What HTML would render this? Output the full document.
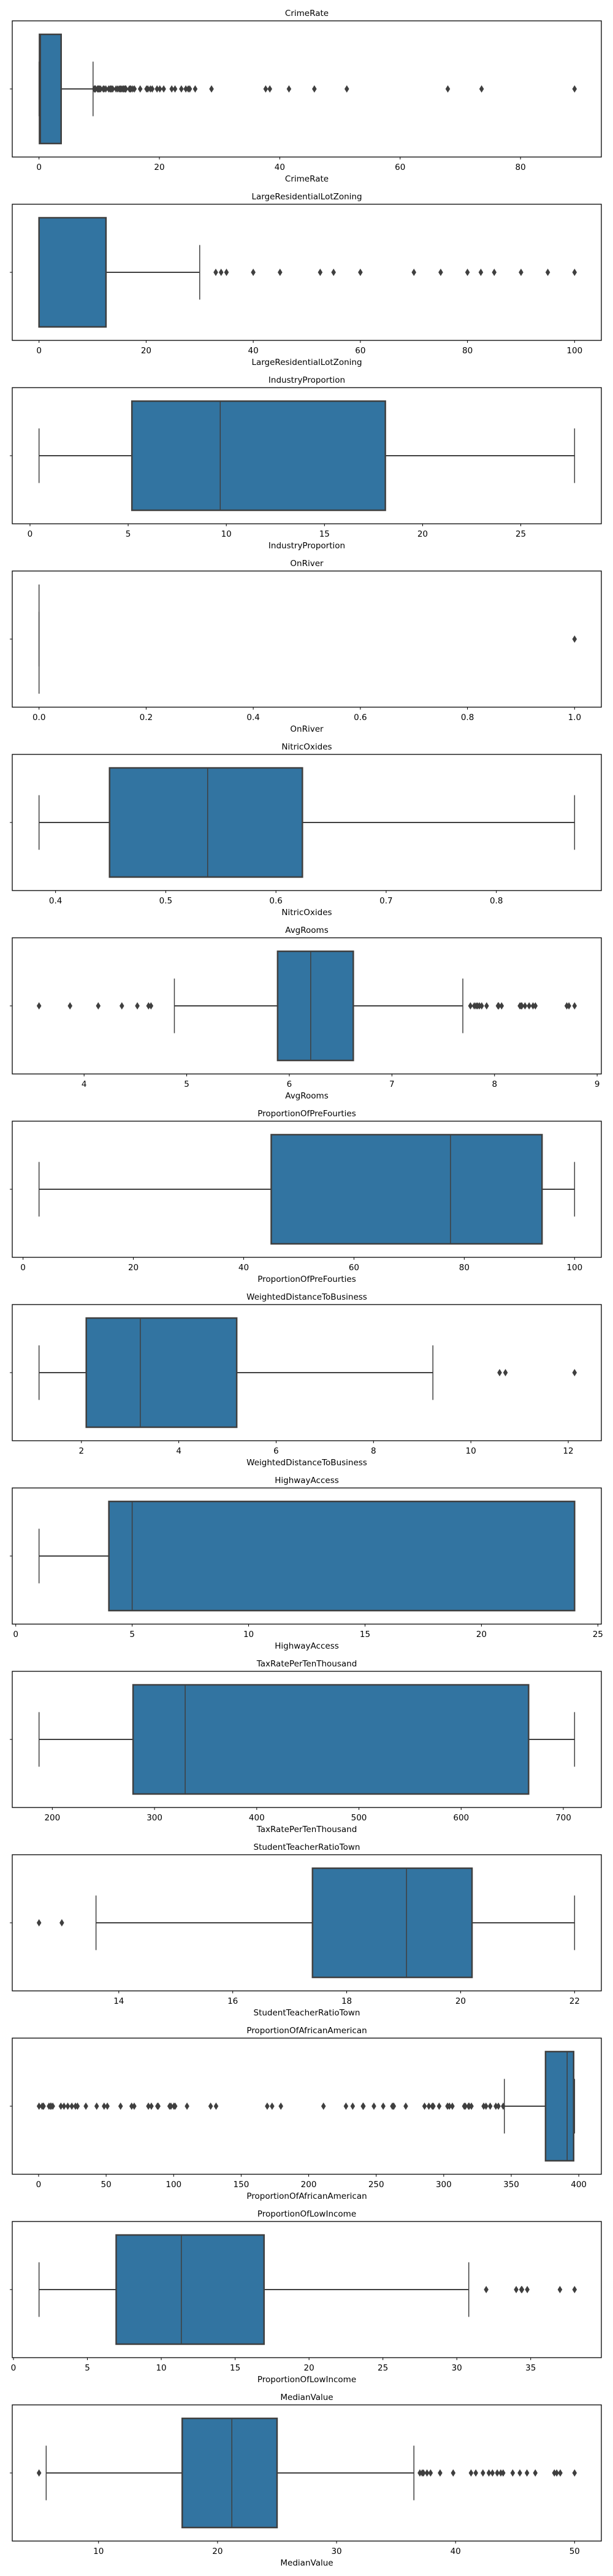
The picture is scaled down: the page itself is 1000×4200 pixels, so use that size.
<!DOCTYPE html>
<html><head><meta charset="utf-8"><style>
html,body{margin:0;padding:0;background:#fff;}
svg{display:block;font-family:"DejaVu Sans","Liberation Sans",sans-serif;}
</style></head>
<body>
<svg id="chart" width="1000" height="4200" viewBox="0 0 1000 4200" xmlns="http://www.w3.org/2000/svg"></svg>
<script>
const names = ["CrimeRate","LargeResidentialLotZoning","IndustryProportion","OnRiver","NitricOxides","AvgRooms","ProportionOfPreFourties","WeightedDistanceToBusiness","HighwayAccess","TaxRatePerTenThousand","StudentTeacherRatioTown","ProportionOfAfricanAmerican","ProportionOfLowIncome","MedianValue"];
const lowWhisker = [0.00632,0,0.46,0,0.385,4.88,2.9,1.13,1,187,13.6,344.9,1.73,5.6];
const q1Values   = [0.082,0,5.19,0,0.449,5.886,45.0,2.10,4,279,17.4,375.4,6.95,17.03];
const medians    = [0.257,0,9.69,0,0.538,6.2085,77.5,3.21,5,330,19.05,391.4,11.36,21.2];
const q3Values   = [3.677,12.5,18.1,0,0.624,6.6235,94.1,5.19,24,666,20.2,396.2,16.955,25];
const highWhisker= [8.98,30,27.74,0,0.871,7.691,100,9.22,24,711,22,396.9,30.81,36.5];
const fliers = [
 [9.18,9.23,9.33,9.39,9.72,9.82,9.92,10.06,10.23,10.67,10.83,11.1,11.58,11.81,11.95,12.05,12.25,12.8,13.08,13.36,13.52,13.68,13.91,14.05,14.24,14.33,14.44,15.02,15.18,15.29,15.58,15.86,16.81,17.87,18.08,18.5,18.81,19.61,20.08,20.72,22.05,22.6,23.65,24.39,24.8,25.05,25.95,28.66,37.66,38.35,41.53,45.75,51.14,67.92,73.53,88.98],
 [33,34,35,40,45,52.5,55,60,70,75,80,82.5,85,90,95,100],
 [],
 [1],
 [],
 [3.561,3.863,4.138,4.368,4.519,4.628,4.652,7.765,7.802,7.82,7.835,7.853,7.875,7.923,8.034,8.04,8.069,8.247,8.259,8.266,8.297,8.337,8.375,8.398,8.704,8.725,8.78],
 [],
 [10.59,10.71,12.13],
 [],
 [],
 [12.6,13.0],
 [0.32,2.6,3.5,3.65,7.7,8.9,9.3,10.5,16.5,18.8,21.6,24.6,27.3,28.8,35,43,48.5,50.9,60.7,68.9,70.8,81.3,83.5,88,88.6,97,98,100.2,101.1,109.9,127.4,131.4,169.3,172.9,179.4,210.97,227.6,232.6,240.2,240.5,248.3,255.2,261.95,262.8,263,271.9,285.8,288.99,291.55,292.3,296.6,302.8,304.2,306.4,315.2,316,318.4,318.8,320.5,329.6,331.3,334.4,338.6,340.5,344.05],
 [31.99,34.02,34.37,34.41,34.77,36.98,37.97],
 [5.0,37,37.2,37.3,37.6,37.9,38.7,39.8,41.3,41.7,42.3,42.8,43.1,43.5,43.8,44,44.8,45.4,46,46.7,48.3,48.5,48.8,50]
];
const tickLabels = [
 ["0","20","40","60","80"],
 ["0","20","40","60","80","100"],
 ["0","5","10","15","20","25"],
 ["0.0","0.2","0.4","0.6","0.8","1.0"],
 ["0.4","0.5","0.6","0.7","0.8"],
 ["4","5","6","7","8","9"],
 ["0","20","40","60","80","100"],
 ["2","4","6","8","10","12"],
 ["0","5","10","15","20","25"],
 ["200","300","400","500","600","700"],
 ["14","16","18","20","22"],
 ["0","50","100","150","200","250","300","350","400"],
 ["0","5","10","15","20","25","30","35"],
 ["10","20","30","40","50"]
];

const NS="http://www.w3.org/2000/svg";
const svg=document.getElementById('chart');
const L=20,R=981,PERIOD=299,TOP0=34,H=222;
const EDGE="#3f3f3f",FILL="#3274a1";
function mk(tag,attrs,parent){const e=document.createElementNS(NS,tag);for(const k in attrs)e.setAttribute(k,attrs[k]);(parent||svg).appendChild(e);return e;}

names.forEach((name,i)=>{
  const top=TOP0+i*PERIOD, bot=top+H, cy=top+H/2;
  const all=[lowWhisker[i],highWhisker[i],q1Values[i],q3Values[i]].concat(fliers[i]);
  const mn=Math.min(...all), mx=Math.max(...all);
  const span=(mx-mn)||1, d0=mn-0.05*span, d1=mx+0.05*span;
  const x=v=>L+(v-d0)/(d1-d0)*(R-L);
  const g=mk('g',{});
  
  
  const t=mk('text',{x:(L+R)/2,y:top-8,'text-anchor':'middle','font-size':'13.5',fill:'#000'},g);
  t.textContent=name;
  
  
  // whiskers
  const wl=mk('line',{x1:x(lowWhisker[i]),x2:x(q1Values[i]),y1:cy,y2:cy,stroke:EDGE,'stroke-width':2},g);
  
  
  const wh=mk('line',{x1:x(q3Values[i]),x2:x(highWhisker[i]),y1:cy,y2:cy,stroke:EDGE,'stroke-width':2},g);
  
  
  [lowWhisker[i],highWhisker[i]].forEach(v=>{
    const c=mk('line',{x1:x(v),x2:x(v),y1:cy-44.5,y2:cy+44.5,stroke:EDGE,'stroke-width':1.5},g);
    
    
  });
  // box
  const bx=mk('rect',{x:x(q1Values[i]),y:cy-89,width:Math.max(0,x(q3Values[i])-x(q1Values[i])),height:178,fill:FILL,stroke:EDGE,'stroke-width':2.5},g);
  
  
  const md=mk('line',{x1:x(medians[i]),x2:x(medians[i]),y1:cy-89,y2:cy+89,stroke:EDGE,'stroke-width':1.5},g);
  
  
  // fliers
  fliers[i].forEach(v=>{
    const px=x(v);
    const p=mk('path',{d:`M${px},${cy-6} L${px+3.8},${cy} L${px},${cy+6} L${px-3.8},${cy} Z`,fill:EDGE},g);
    
    
  });
  // frame
  const fr=mk('rect',{x:L,y:top,width:R-L,height:H,fill:'none',stroke:'#000','stroke-width':1.3},g);
  
  
  const yt=mk('line',{x1:L-4,x2:L,y1:cy,y2:cy,stroke:'#000','stroke-width':1},g);
  
  
  tickLabels[i].forEach(s=>{
    const v=parseFloat(s), px=x(v);
    const tk=mk('line',{x1:px,x2:px,y1:bot,y2:bot+4,stroke:'#000','stroke-width':1},g);
    
    
    const tl=mk('text',{x:px,y:bot+21,'text-anchor':'middle','font-size':'13.5',fill:'#000'},g);
    tl.textContent=s;
    
    
  });
  const xl=mk('text',{x:(L+R)/2,y:bot+40,'text-anchor':'middle','font-size':'13.5',fill:'#000'},g);
  xl.textContent=name;
  
  
});
</script>
</body></html>
